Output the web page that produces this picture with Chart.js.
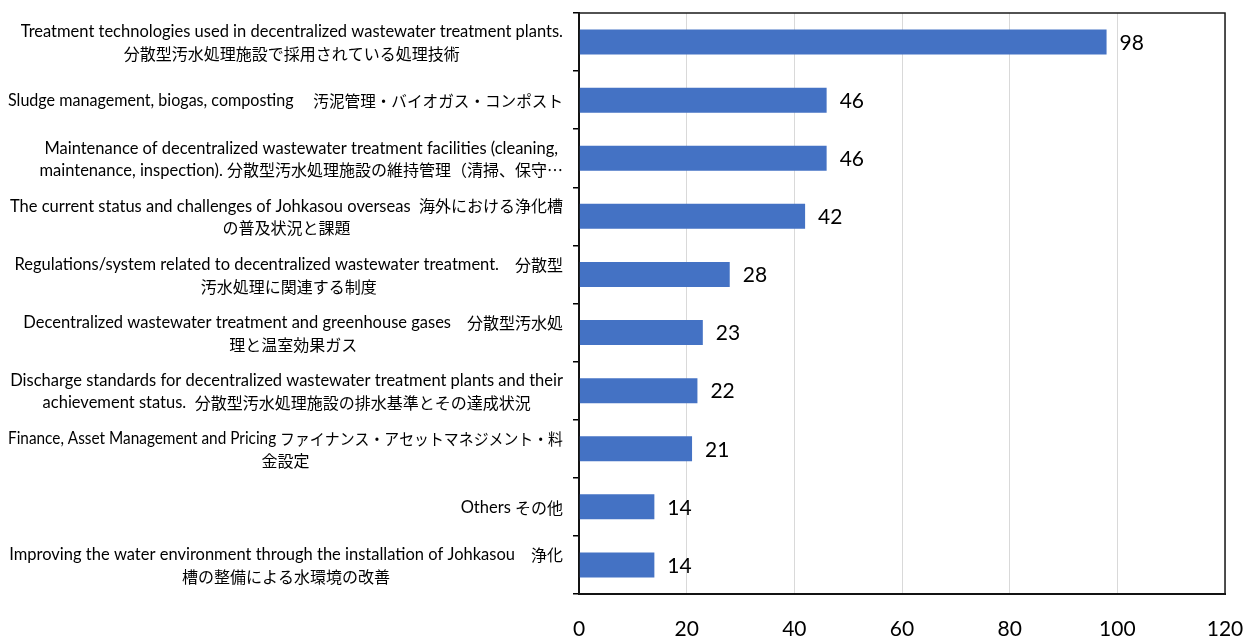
<!DOCTYPE html>
<html>
<head>
<meta charset="utf-8">
<script src="https://cdn.jsdelivr.net/npm/chart.js@4.4.1/dist/chart.umd.min.js"></script>
<style>
  html, body { margin: 0; padding: 0; background: #fff; }
  canvas { display: block; }
</style>
</head>
<body>
<canvas id="chart" width="1245" height="637"></canvas>
<script>
// Survey topics (each entry is one label, split into its display lines)
const categories = [
  ["Treatment technologies used in decentralized wastewater treatment plants.", "分散型汚水処理施設で採用されている処理技術"],
  ["Sludge management, biogas, composting　 汚泥管理・バイオガス・コンポスト"],
  ["Maintenance of decentralized wastewater treatment facilities (cleaning,", "maintenance, inspection). 分散型汚水処理施設の維持管理（清掃、保守…"],
  ["The current status and challenges of Johkasou overseas  海外における浄化槽", "の普及状況と課題"],
  ["Regulations/system related to decentralized wastewater treatment.　分散型", "汚水処理に関連する制度"],
  ["Decentralized wastewater treatment and greenhouse gases　分散型汚水処", "理と温室効果ガス"],
  ["Discharge standards for decentralized wastewater treatment plants and their", "achievement status.  分散型汚水処理施設の排水基準とその達成状況"],
  ["Finance, Asset Management and Pricing ファイナンス・アセットマネジメント・料", "金設定"],
  ["Others その他"],
  ["Improving the water environment through the installation of Johkasou　浄化", "槽の整備による水環境の改善"]
];

// Number of responses per topic
const counts = [98, 46, 46, 42, 28, 23, 22, 21, 14, 14];

// Value axis range
const axisMin = 0;
const axisMax = 120;
const axisStep = 20;

const LATIN_FONT = '16.5px "Lato", sans-serif';
const CJK_FONT = '16px "Noto Sans CJK JP", sans-serif';
const NUM_FAMILY = '"Lato", sans-serif';
const CJK_CHARS = /[\u2026\u3000-\u30ff\u3400-\u9fff\uff00-\uffef]/;

// Split a line into runs of Latin and CJK text so each gets its own font
function splitRuns(text) {
  const runs = [];
  for (const ch of text) {
    const cjk = CJK_CHARS.test(ch);
    const last = runs[runs.length - 1];
    if (last && last.cjk === cjk) last.text += ch;
    else runs.push({ text: ch, cjk });
  }
  return runs;
}

function measureRuns(ctx, runs) {
  let w = 0;
  runs.forEach(r => {
    ctx.font = r.cjk ? CJK_FONT : LATIN_FONT;
    r.width = ctx.measureText(r.text).width;
    w += r.width;
  });
  return w;
}

// Category labels: each multi-line label is centred line by line,
// with the whole block right-aligned next to the axis. Lines wider
// than the label area are condensed to fit.
const categoryLabels = {
  id: 'categoryLabels',
  afterDraw(chart) {
    const y = chart.scales.y;
    const ctx = chart.ctx;
    ctx.save();
    ctx.fillStyle = '#000';
    ctx.textBaseline = 'middle';
    ctx.textAlign = 'left';
    const right = y.right - 16;
    const maxWidth = right - 8;
    const lineHeight = 22;
    chart.data.labels.forEach((label, i) => {
      const lines = (Array.isArray(label) ? label : [label]).map(s => {
        const runs = splitRuns(s);
        const natural = measureRuns(ctx, runs);
        const squeeze = Math.min(1, maxWidth / natural);
        return { runs, squeeze, width: natural * squeeze };
      });
      const blockWidth = Math.max(...lines.map(l => l.width));
      const cx = right - blockWidth / 2;
      const cy = y.getPixelForValue(i) + 1;
      lines.forEach((line, k) => {
        const x0 = cx - line.width / 2;
        const ly = cy + (k - (lines.length - 1) / 2) * lineHeight;
        ctx.save();
        ctx.translate(x0, ly);
        ctx.scale(line.squeeze, 1);
        let x = 0;
        line.runs.forEach(r => {
          ctx.font = r.cjk ? CJK_FONT : LATIN_FONT;
          ctx.fillText(r.text, x, 0);
          x += r.width;
        });
        ctx.restore();
      });
    });
    ctx.restore();
  }
};

// Value printed just past the end of each bar
const valueLabels = {
  id: 'valueLabels',
  afterDatasetsDraw(chart) {
    const ctx = chart.ctx;
    const meta = chart.getDatasetMeta(0);
    const values = chart.data.datasets[0].data;
    ctx.save();
    ctx.font = '21px ' + NUM_FAMILY;
    ctx.fillStyle = '#000';
    ctx.textBaseline = 'middle';
    ctx.textAlign = 'left';
    meta.data.forEach((bar, i) => {
      ctx.fillText(String(values[i]), bar.x + 13, bar.y + 1);
    });
    ctx.restore();
  }
};

// Frame around the plot area
const plotFrame = {
  id: 'plotFrame',
  afterDraw(chart) {
    const { left, top, right, bottom } = chart.chartArea;
    const ctx = chart.ctx;
    ctx.save();
    ctx.strokeStyle = '#1a1a1a';
    ctx.lineWidth = 1.5;
    ctx.strokeRect(left, top, right - left, bottom - top);
    ctx.restore();
  }
};

new Chart(document.getElementById('chart'), {
  type: 'bar',
  data: {
    labels: categories,
    datasets: [{
      data: counts,
      backgroundColor: '#4472C4',
      borderWidth: 0,
      barPercentage: 0.43,
      categoryPercentage: 1.0
    }]
  },
  options: {
    indexAxis: 'y',
    responsive: false,
    devicePixelRatio: 1,
    animation: false,
    layout: { padding: { top: 13, right: 20, left: 0, bottom: 0 } },
    plugins: {
      legend: { display: false },
      tooltip: { enabled: false }
    },
    scales: {
      x: {
        min: axisMin,
        max: axisMax,
        ticks: {
          stepSize: axisStep,
          padding: 23,
          color: '#000',
          font: { family: NUM_FAMILY, size: 21 }
        },
        grid: {
          color: '#d9d9d9',
          lineWidth: 1,
          drawTicks: false
        },
        border: { display: true, color: '#000', width: 2 },
        afterFit(scale) {
          scale.height = 43;
          scale.paddingLeft = 0;
          scale.paddingRight = 0;
        }
      },
      y: {
        ticks: { display: false },
        grid: {
          offset: true,
          drawOnChartArea: false,
          drawTicks: true,
          tickLength: 6,
          color: '#000',
          lineWidth: 1.5
        },
        border: { display: true, color: '#000', width: 2 },
        afterFit(scale) { scale.width = 579; }
      }
    }
  },
  plugins: [categoryLabels, valueLabels, plotFrame]
});
</script>
</body>
</html>
